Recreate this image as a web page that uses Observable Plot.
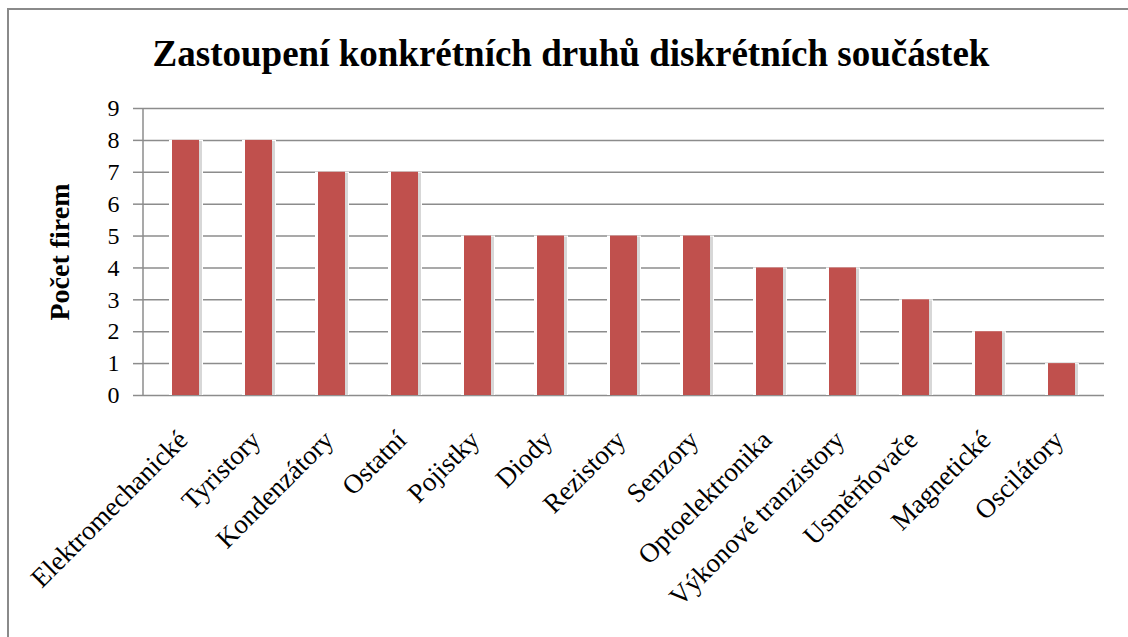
<!DOCTYPE html>
<html>
<head>
<meta charset="utf-8">
<script src="https://cdn.jsdelivr.net/npm/d3@7"></script>
<script src="https://cdn.jsdelivr.net/npm/@observablehq/plot@0.6"></script>
<style>
  body { margin: 0; background: #fff; }
  #wrap { position: relative; width: 1128px; height: 637px; overflow: hidden; background: #fff; }
  #frame { position: absolute; left: 7px; top: 8px; width: 1200px; height: 700px; border-left: 2px solid #8a8a8a; border-top: 2px solid #8a8a8a; }
  #title { position: relative; height: 90px; box-sizing: border-box; padding-top: 36px; padding-left: 14px; text-align: center;
           font-family: "Liberation Serif", "Times New Roman", serif; font-weight: bold; font-size: 37px; line-height: 36px; color: #000; }
  #chart { position: relative; }
  #chart svg, #chart svg text { font-family: "Liberation Serif", "Times New Roman", serif !important; }
</style>
</head>
<body>
<div id="wrap">
  <div id="frame"></div>
  <div id="title">Zastoupení konkrétních druhů diskrétních součástek</div>
  <div id="chart"></div>
</div>
<script>
const categories = ["Elektromechanické", "Tyristory", "Kondenzátory", "Ostatní", "Pojistky", "Diody", "Rezistory", "Senzory", "Optoelektronika", "Výkonové tranzistory", "Usměrňovače", "Magnetické", "Oscilátory"];
const values = [8, 8, 7, 7, 5, 5, 5, 5, 4, 4, 3, 2, 1];
const yTicks = [0, 1, 2, 3, 4, 5, 6, 7, 8, 9];
const yLabel = "Počet firem";

const data = categories.map((c, i) => ({cat: c, val: values[i]}));
const serif = "Liberation Serif, Times New Roman, serif";
const grid = "#8c8c8c";

const leftSpine = (index, scales, values, dims) => {
  const g = d3.create("svg:g");
  g.append("line")
    .attr("x1", dims.marginLeft).attr("x2", dims.marginLeft)
    .attr("y1", scales.y(yTicks[0])).attr("y2", scales.y(yTicks[yTicks.length - 1]))
    .attr("stroke", grid).attr("stroke-width", 1.5);
  return g.node();
};

const chart = Plot.plot({
  width: 1128,
  height: 547,
  marginLeft: 143,
  marginRight: 24,
  marginTop: 18,
  marginBottom: 242,
  style: {fontFamily: serif, background: "transparent", color: "#000"},
  x: {type: "band", domain: categories, paddingInner: 0.635, paddingOuter: 0.3175, axis: null},
  y: {domain: [0, 9], ticks: yTicks, axis: null},
  marks: [
    Plot.ruleY(yTicks, {stroke: grid, strokeWidth: 1.5}),
    Plot.axisY({ticks: yTicks, tickSize: 10, tickPadding: 14, stroke: grid, strokeOpacity: 1, strokeWidth: 1.5, fontSize: 24, fill: "#000", label: null, tickFormat: d => String(d)}),
    leftSpine,
    Plot.barY(data, {x: "cat", y: "val", fill: "white", insetLeft: -3, insetRight: -4}),
    Plot.barY(data, {x: "cat", y: "val", fill: "#9a9a9a", fillOpacity: 0.4, dx: 2, dy: 1, insetRight: -1}),
    Plot.barY(data, {x: "cat", y: "val", fill: "#C0504D"}),
    Plot.text(data, {x: "cat", y: () => 0, text: "cat", rotate: -45, textAnchor: "end", dx: -3, dy: 40, fontSize: 27, fill: "#000"}),
    Plot.text([yLabel], {frameAnchor: "left", textAnchor: "middle", rotate: -90, dx: -83, fontSize: 28, fontWeight: "bold", fill: "#000"})
  ]
});
document.getElementById("chart").appendChild(chart);
</script>
</body>
</html>
